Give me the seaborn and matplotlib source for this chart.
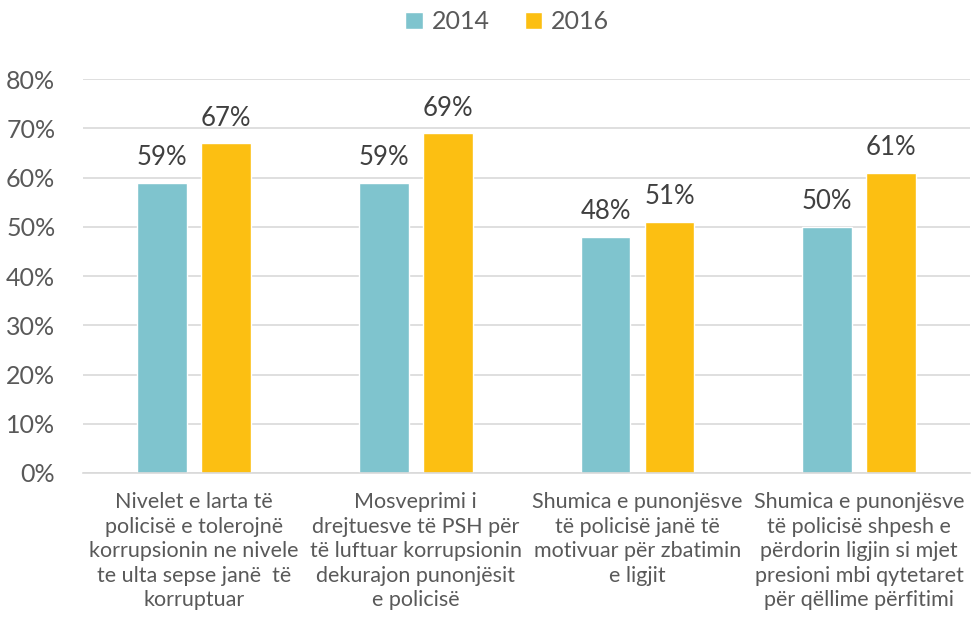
import numpy as np
import pandas as pd
import matplotlib.pyplot as plt
import seaborn as sns
from matplotlib.ticker import PercentFormatter

categories = [
    "Nivelet e larta të\npolicisë e tolerojnë\nkorrupsionin ne nivele\nte ulta sepse janë  të\nkorruptuar",
    "Mosveprimi i\ndrejtuesve të PSH për\ntë luftuar korrupsionin\ndekurajon punonjësit\ne policisë",
    "Shumica e punonjësve\ntë policisë janë të\nmotivuar për zbatimin\ne ligjit",
    "Shumica e punonjësve\ntë policisë shpesh e\npërdorin ligjin si mjet\npresioni mbi qytetaret\npër qëllime përfitimi",
]
years = ["2014", "2016"]
values_2014 = [59, 59, 48, 50]
values_2016 = [67, 69, 51, 61]

df = pd.DataFrame({
    "category": categories * 2,
    "year": [years[0]] * 4 + [years[1]] * 4,
    "value": values_2014 + values_2016,
})

sns.set_style("white")
plt.rcParams["font.family"] = ["Lato", "DejaVu Sans"]
text_color = "#595959"

fig = plt.figure(figsize=(9.78, 6.34), dpi=100)
ax = fig.add_axes([0.085, 0.254, 0.907, 0.621])

palette = {"2014": "#7fc4ce", "2016": "#fcbf12"}
sns.barplot(data=df, x="category", y="value", hue="year", palette=palette,
            width=0.577, gap=0.22, ax=ax, saturation=1)

for cont in ax.containers:
    ax.bar_label(cont, fmt="%.0f%%", padding=9, fontsize=18.5, color="#404040")

ax.set_ylim(0, 80)
ax.set_yticks(np.arange(0, 81, 10))
ax.yaxis.set_major_formatter(PercentFormatter(decimals=0))
ax.grid(axis="y", color="#d9d9d9", linewidth=1.2)
ax.set_axisbelow(True)
for side in ["left", "right", "top"]:
    ax.spines[side].set_visible(False)
ax.spines["bottom"].set_color("#d9d9d9")
ax.spines["bottom"].set_linewidth(1.2)
ax.set_xlabel("")
ax.set_ylabel("")
ax.tick_params(axis="y", labelsize=18, labelcolor=text_color, length=0, pad=20)
ax.tick_params(axis="x", labelsize=15.5, labelcolor=text_color, length=0, pad=14)
for lbl in ax.get_xticklabels():
    lbl.set_linespacing(1.28)

ax.legend(loc="lower center", bbox_to_anchor=(0.478, 1.06), ncol=2, frameon=False,
          fontsize=18, labelcolor=text_color, handlelength=0.7, handleheight=0.7,
          handletextpad=0.35, columnspacing=1.4)

fig.savefig("out.png", dpi=100)
